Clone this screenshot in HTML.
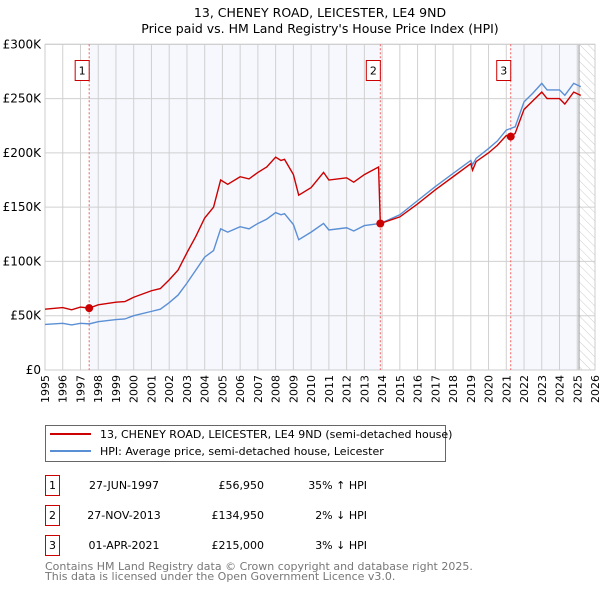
<!DOCTYPE html>
<html><head><meta charset="utf-8"><style>
body{margin:0;background:#fff;width:600px;height:590px;overflow:hidden;font-family:"DejaVu Sans","Liberation Sans",sans-serif;}
svg text{font-family:"DejaVu Sans","Liberation Sans",sans-serif;}
</style></head><body>
<svg id="chart" width="600" height="590" xmlns="http://www.w3.org/2000/svg">
<defs><pattern id="hatch" width="6" height="6" patternUnits="userSpaceOnUse" patternTransform="rotate(-45)"><line x1="0" y1="0" x2="0" y2="6" stroke="#ccc" stroke-width="1"/></pattern></defs>
<text x="320" y="17" font-size="12.5" text-anchor="middle">13, CHENEY ROAD, LEICESTER, LE4 9ND</text>
<text x="320" y="33" font-size="12.5" text-anchor="middle">Price paid vs. HM Land Registry's House Price Index (HPI)</text>
<g id="plot"></g>
<g>
<rect x="45.5" y="425.5" width="400" height="36" fill="#fff" stroke="#666"/>
<line x1="50" y1="434" x2="91" y2="434" stroke="#cc0000" stroke-width="2"/>
<text x="100" y="438" font-size="11">13, CHENEY ROAD, LEICESTER, LE4 9ND (semi-detached house)</text>
<line x1="50" y1="451" x2="91" y2="451" stroke="#5b8fd4" stroke-width="2"/>
<text x="100" y="455" font-size="11">HPI: Average price, semi-detached house, Leicester</text>
</g>
<g font-size="11">
<rect x="45.5" y="475.5" width="14" height="20" fill="none" stroke="#cc0000"/><text x="52.5" y="489" text-anchor="middle">1</text>
<text x="124" y="489" text-anchor="middle">27-JUN-1997</text><text x="264" y="489" text-anchor="end">£56,950</text><text x="367" y="489" text-anchor="end">35% ↑ HPI</text>
<rect x="45.5" y="505.5" width="14" height="20" fill="none" stroke="#cc0000"/><text x="52.5" y="519" text-anchor="middle">2</text>
<text x="124" y="519" text-anchor="middle">27-NOV-2013</text><text x="264" y="519" text-anchor="end">£134,950</text><text x="367" y="519" text-anchor="end">2% ↓ HPI</text>
<rect x="45.5" y="535.5" width="14" height="20" fill="none" stroke="#cc0000"/><text x="52.5" y="549" text-anchor="middle">3</text>
<text x="124" y="549" text-anchor="middle">01-APR-2021</text><text x="264" y="549" text-anchor="end">£215,000</text><text x="367" y="549" text-anchor="end">3% ↓ HPI</text>
</g>
<text x="45" y="570" font-size="11" fill="#777">Contains HM Land Registry data © Crown copyright and database right 2025.</text>
<text x="45" y="580" font-size="11" fill="#777">This data is licensed under the Open Government Licence v3.0.</text>
</svg>
<script>
const yearTicks=[1995,1996,1997,1998,1999,2000,2001,2002,2003,2004,2005,2006,2007,2008,2009,2010,2011,2012,2013,2014,2015,2016,2017,2018,2019,2020,2021,2022,2023,2024,2025,2026];
const valueTicks=[0,50,100,150,200,250,300];
const valueTickLabels=["£0","£50K","£100K","£150K","£200K","£250K","£300K"];
const hpiYears=[1995,1996,1996.5,1997,1997.5,1998,1999,1999.5,2000,2001,2001.5,2002,2002.5,2003,2003.5,2004,2004.5,2004.9,2005.3,2006,2006.5,2007,2007.5,2008,2008.3,2008.5,2009,2009.3,2010,2010.7,2011,2012,2012.4,2013,2013.9,2015,2016,2017,2018,2019,2019.1,2019.3,2020,2020.5,2021,2021.5,2022,2022.5,2023,2023.3,2024,2024.3,2024.8,2025.2];
const hpiValues=[42,43,41.5,43,42.5,44.5,46.5,47,50,54,56,62,69,80,92,104,110,130,127,132,130,135,139,145,143,144,134,120,127,135,129,131,128,133,135,143,156,169,181,193,189,195,204,211,221,224,247,255,264,258,258,253,264,261];
const priceYears=[1995,1996,1996.5,1997,1997.49,1998,1999,1999.5,2000,2001,2001.5,2002,2002.5,2003,2003.5,2004,2004.5,2004.9,2005.3,2006,2006.5,2007,2007.5,2008,2008.3,2008.5,2009,2009.3,2010,2010.7,2011,2012,2012.4,2013,2013.8,2013.9,2015,2016,2017,2018,2019,2019.1,2019.3,2020,2020.5,2021,2021.25,2021.5,2022,2022.5,2023,2023.3,2024,2024.3,2024.8,2025.2];
const priceValues=[56,57.5,55.5,58,57,60,62.5,63,67,73,75,83,92,108,123,140,150,175,171,178,176,182,187,196,193,194,180,161,168,182,175,177,173,180,187,134.95,141,153,166,178,190,184,192,200,207,216,215,218,240,248,256,250,250,245,256,253];
const saleYears=[1997.49,2013.9,2021.25];
const saleValues=[56.95,134.95,215];
const saleLabels=["1","2","3"];
const dataEndYear=2025.1;

const X0=45,X1=595,Y0=370,Y1=44.3;
const xs=y=>X0+(y-1995)/(2026-1995)*(X1-X0);
const ys=v=>Y0-v/300*(Y0-Y1);
const NS="http://www.w3.org/2000/svg";
const plot=document.getElementById('plot');
function mk(t,a,p){const e=document.createElementNS(NS,t);for(const k in a)e.setAttribute(k,a[k]);(p||plot).appendChild(e);return e;}

let e;
e=mk('rect',{x:X0,y:Y1,width:X1-X0,height:Y0-Y1,fill:'#fff'});


e=mk('rect',{x:xs(saleYears[0]),y:Y1,width:xs(saleYears[1])-xs(saleYears[0]),height:Y0-Y1,fill:'#f6f8fe'});


e=mk('rect',{x:xs(saleYears[2]),y:Y1,width:xs(dataEndYear)-xs(saleYears[2]),height:Y0-Y1,fill:'#f6f8fe'});


e=mk('rect',{x:xs(dataEndYear),y:Y1,width:X1-xs(dataEndYear),height:Y0-Y1,fill:'url(#hatch)'});



yearTicks.forEach(yr=>{
  const x=xs(yr);
  e=mk('line',{x1:x,x2:x,y1:Y1,y2:Y0,stroke:'#d0d0d0','stroke-width':1});
  
  
  e=mk('text',{x:x+4,y:Y0+5,'font-size':11,'text-anchor':'end',transform:`rotate(-90 ${x+4} ${Y0+5})`});
  e.textContent=yr;
  
  
});
valueTicks.forEach((v,i)=>{
  const y=ys(v);
  e=mk('line',{x1:X0,x2:X1,y1:y,y2:y,stroke:'#d0d0d0','stroke-width':1});
  
  
  e=mk('text',{x:X0-4,y:y+4,'font-size':12,'text-anchor':'end'});
  e.textContent=valueTickLabels[i];
  
  
});
e=mk('line',{x1:xs(dataEndYear),x2:xs(dataEndYear),y1:Y1,y2:Y0,stroke:'#999','stroke-width':1});


e=mk('rect',{x:X0,y:Y1,width:X1-X0,height:Y0-Y1,fill:'none',stroke:'#ccc'});



saleYears.forEach((yr,i)=>{
  const x=xs(yr);
  e=mk('line',{x1:x,x2:x,y1:Y1,y2:Y0,stroke:'#f06060','stroke-width':1,'stroke-dasharray':'2,2'});
  
  
  e=mk('rect',{x:x-14,y:60.5,width:14,height:20,fill:'#fff',stroke:'#cc0000'});
  
  
  e=mk('text',{x:x-7,y:74.5,'font-size':11,'text-anchor':'middle'});
  e.textContent=saleLabels[i];
  
  
});

e=mk('polyline',{points:hpiYears.map((y,i)=>xs(y)+','+ys(hpiValues[i])).join(' '),fill:'none',stroke:'#5b8fd4','stroke-width':1.4});


e=mk('polyline',{points:priceYears.map((y,i)=>xs(y)+','+ys(priceValues[i])).join(' '),fill:'none',stroke:'#cc0000','stroke-width':1.4});


saleYears.forEach((yr,i)=>{
  e=mk('circle',{cx:xs(yr),cy:ys(saleValues[i]),r:4,fill:'#cc0000'});
  
  
});
</script>
</body></html>
